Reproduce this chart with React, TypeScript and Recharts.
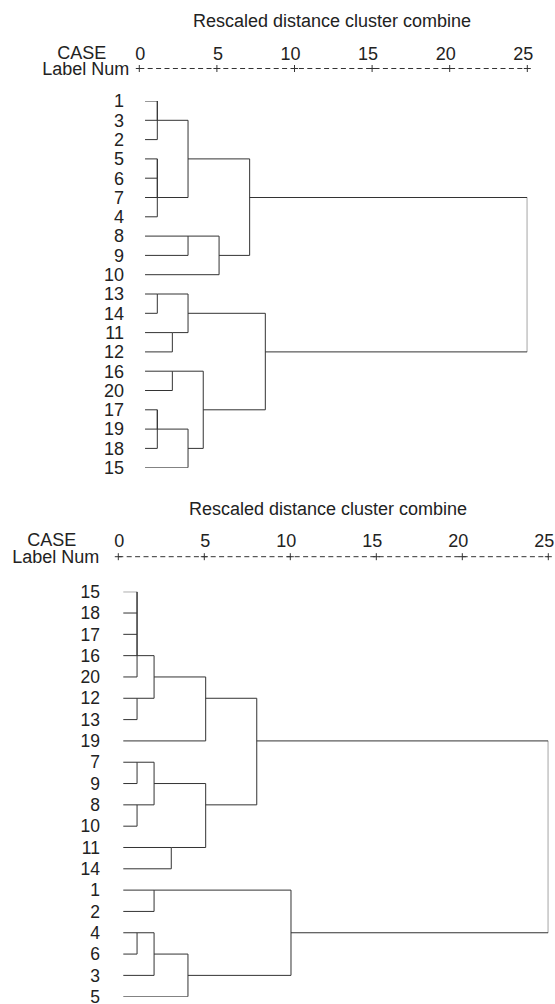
import React from 'react';
import { LineChart, Line, XAxis, YAxis } from 'recharts';

const FONT = '"Liberation Sans", Arial, Helvetica, sans-serif';
const INK = '#222';
const LINE = '#333';

const axisTicks = [0, 5, 10, 15, 20, 25];
const axisTitle = 'Rescaled distance cluster combine';
const caseLabel = 'CASE';
const labelNumLabel = 'Label Num';

type Child = number | string;
type Merge = [Child, Child, number];

// ---- top dendrogram ----
const topLeafOrder = [1, 3, 2, 5, 6, 7, 4, 8, 9, 10, 13, 14, 11, 12, 16, 20, 17, 19, 18, 15];
const topLeafBase = 0.37;
const topMerges: Merge[] = [
  [1, 3, 1.16],
  ['m0', 2, 1.16],
  [5, 6, 1.16],
  ['m2', 7, 1.16],
  ['m3', 4, 1.16],
  [13, 14, 1.16],
  [17, 19, 1.16],
  ['m6', 18, 1.16],
  [11, 12, 2.13],
  [16, 20, 2.13],
  ['m1', 'm4', 3.14],
  [8, 9, 3.14],
  ['m5', 'm8', 3.14],
  ['m7', 15, 3.14],
  ['m9', 'm13', 4.12],
  ['m11', 10, 5.14],
  ['m10', 'm15', 7.11],
  ['m12', 'm14', 8.12],
  ['m16', 'm17', 25],
];

// ---- bottom dendrogram ----
const bottomLeafOrder = [15, 18, 17, 16, 20, 12, 13, 19, 7, 9, 8, 10, 11, 14, 1, 2, 4, 6, 3, 5];
const bottomLeafBase = 0.29;
const bottomMerges: Merge[] = [
  [15, 18, 1.09],
  ['m0', 17, 1.09],
  ['m1', 16, 1.09],
  ['m2', 20, 1.09],
  [12, 13, 1.09],
  [7, 9, 1.09],
  [8, 10, 1.09],
  [4, 6, 1.09],
  ['m3', 'm4', 2.08],
  ['m5', 'm6', 2.08],
  [1, 2, 2.08],
  ['m7', 3, 2.08],
  [11, 14, 3.08],
  ['m11', 5, 4.05],
  ['m8', 19, 5.08],
  ['m9', 'm12', 5.08],
  ['m14', 'm15', 8.05],
  ['m10', 'm13', 10.04],
  ['m16', 'm17', 25],
];

function buildSegments(order: number[], merges: Merge[], base: number) {
  const rowOf = new Map<number, number>(order.map((c, i) => [c, i]));
  const nodes: { row: number; h: number }[] = [];
  const get = (c: Child) =>
    typeof c === 'number' ? { row: rowOf.get(c) as number, h: base } : nodes[Number(c.slice(1))];
  return merges.map(([a, b, d]) => {
    const A = get(a);
    const B = get(b);
    nodes.push({ row: Math.floor((A.row + B.row) / 2), h: d });
    return [
      { x: A.h, y: A.row },
      { x: d, y: A.row },
      { x: d, y: B.row },
      { x: B.h, y: B.row },
    ];
  });
}

const PlusTick = (props: any) => {
  const { x, y, payload, numOffset } = props;
  return (
    <g>
      <text x={x + 6} y={y - numOffset} textAnchor="end" fontSize={18} fill={INK} fontFamily={FONT}>
        {payload.value}
      </text>
      <line x1={x - 3.5} x2={x + 3.5} y1={y} y2={y} stroke={LINE} strokeWidth={1} />
      <line x1={x} x2={x} y1={y - 3.5} y2={y + 3.5} stroke={LINE} strokeWidth={1} />
    </g>
  );
};

type DProps = {
  top: number;
  height: number;
  margin: { top: number; right: number; bottom: number; left: number };
  yWidth: number;
  padTop: number;
  labelGap: number;
  leafFont: number;
  order: number[];
  merges: Merge[];
  base: number;
  numOffset: number;
  titleX: number;
  titleY: number;
  caseX: number;
  caseY: number;
  labelNumRight: number;
  labelNumY: number;
};

function Dendrogram(p: DProps) {
  const segs = buildSegments(p.order, p.merges, p.base);
  const rows = p.order.map((_, i) => i);
  return (
    <div style={{ position: 'absolute', left: 0, top: p.top, width: 555, height: p.height }}>
      <LineChart width={555} height={p.height} margin={p.margin}>
        <XAxis
          xAxisId={0}
          type="number"
          dataKey="x"
          orientation="top"
          domain={[0, 25]}
          allowDataOverflow
          ticks={axisTicks}
          interval={0}
          height={40}
          tickSize={0}
          tickMargin={0}
          tickLine={false}
          axisLine={{ stroke: LINE, strokeDasharray: '5 3.4' }}
          tick={(tp: any) => <PlusTick {...tp} numOffset={p.numOffset} />}
        />
        <YAxis
          yAxisId={0}
          type="number"
          dataKey="y"
          domain={[0, 19]}
          reversed
          allowDataOverflow
          ticks={rows}
          interval={0}
          width={p.yWidth}
          padding={{ top: p.padTop, bottom: 0 }}
          axisLine={false}
          tickLine={false}
          tickSize={0}
          tickMargin={p.labelGap}
          tickFormatter={(v: number) => String(p.order[v])}
          tick={{ fontSize: p.leafFont, fill: INK, fontFamily: FONT }}
        />
        {segs.map((s, i) => (
          <Line
            key={i}
            data={s}
            dataKey="y"
            type="linear"
            stroke={LINE}
            strokeWidth={1}
            dot={false}
            activeDot={false}
            isAnimationActive={false}
          />
        ))}
        <text x={p.titleX} y={p.titleY} textAnchor="middle" fontSize={18} fill={INK} fontFamily={FONT}>
          {axisTitle}
        </text>
        <text x={p.caseX} y={p.caseY} textAnchor="middle" fontSize={18} fill={INK} fontFamily={FONT}>
          {caseLabel}
        </text>
        <text x={p.labelNumRight} y={p.labelNumY} textAnchor="end" fontSize={18} fill={INK} fontFamily={FONT}>
          {labelNumLabel}
        </text>
      </LineChart>
    </div>
  );
}

export default function App() {
  return (
    <div style={{ position: 'absolute', left: 0, top: 0, width: 555, height: 1004, background: '#fff' }}>
      <Dendrogram
        top={0}
        height={490}
        margin={{ top: 28.5, right: 27.7, bottom: 22.3, left: 0 }}
        yWidth={139.3}
        padTop={32.5}
        labelGap={15.3}
        leafFont={18}
        order={topLeafOrder}
        merges={topMerges}
        base={topLeafBase}
        numOffset={8.5}
        titleX={332}
        titleY={27}
        caseX={81.7}
        caseY={59}
        labelNumRight={129.3}
        labelNumY={75}
      />
      <Dendrogram
        top={490}
        height={514}
        margin={{ top: 26.7, right: 6.7, bottom: 7.3, left: 0 }}
        yWidth={118.3}
        padTop={35}
        labelGap={18.3}
        leafFont={17.5}
        order={bottomLeafOrder}
        merges={bottomMerges}
        base={bottomLeafBase}
        numOffset={10}
        titleX={328}
        titleY={24.5}
        caseX={51.7}
        caseY={56}
        labelNumRight={99.3}
        labelNumY={72.7}
      />
    </div>
  );
}
